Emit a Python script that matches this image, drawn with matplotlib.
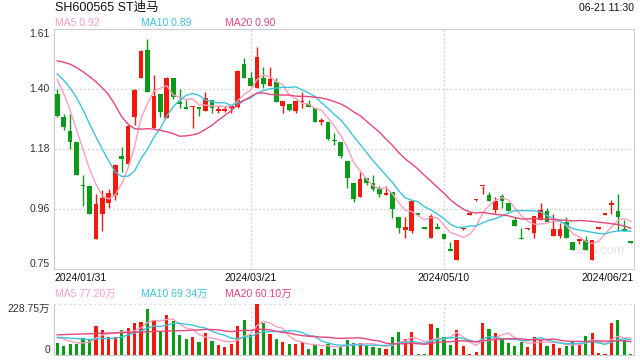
import numpy as np
import matplotlib.pyplot as plt
from matplotlib.patches import Rectangle

plt.rcParams['font.family'] = ['Liberation Sans', 'Noto Sans CJK SC', 'DejaVu Sans']

# 行情数据 (日K, 2024/01/31 - 2024/06/21)
opens = [1.378, 1.296, 1.246, 1.206, 1.050, 1.049, 0.859, 0.948, 0.988, 1.016,
         1.156, 1.127, 1.296, 1.436, 1.536, 1.256, 1.378, 1.292, 1.436, 1.348,
         1.330, 1.330, 1.330, 1.317, 1.357, 1.317, 1.317, 1.328, 1.332, 1.486,
         1.436, 1.400, 1.436, 1.407, 1.421, 1.335, 1.341, 1.317, 1.348, 1.341,
         1.328, 1.278, 1.278, 1.212, 1.206, 1.138, 1.059, 1.009, 1.077, 1.059,
         1.041, 1.018, 1.027, 0.937, 0.891, 0.887, 0.950, 0.900, 0.862, 0.900,
         0.877, 0.821, 0.783, 0.893, 0.946, 0.997, 1.047, 1.016, 0.963, 1.013,
         0.988, 0.927, 0.860, 0.893, 0.880, 0.927, 0.959, 0.869, 0.869, 0.920,
         0.848, 0.853, 0.855, 0.783, 0.896, 0.946, 0.982, 0.959, 0.893, 0.850]
highs = [1.396, 1.307, 1.307, 1.206, 1.088, 1.049, 1.020, 1.034, 1.038, 1.127,
         1.188, 1.267, 1.396, 1.536, 1.575, 1.446, 1.378, 1.439, 1.436, 1.396,
         1.357, 1.335, 1.330, 1.385, 1.357, 1.335, 1.335, 1.337, 1.464, 1.507,
         1.457, 1.547, 1.475, 1.475, 1.436, 1.353, 1.341, 1.353, 1.385, 1.357,
         1.328, 1.292, 1.278, 1.238, 1.206, 1.138, 1.059, 1.099, 1.077, 1.088,
         1.049, 1.049, 1.027, 0.937, 0.937, 0.998, 0.951, 0.901, 0.948, 0.916,
         0.880, 0.848, 0.855, 0.898, 0.951, 1.001, 1.050, 1.027, 1.009, 1.020,
         0.988, 0.937, 0.898, 0.897, 0.941, 0.988, 0.970, 0.948, 0.916, 0.937,
         0.848, 0.857, 0.869, 0.855, 0.900, 0.951, 0.998, 1.020, 0.927, 0.851]
lows = [1.296, 1.249, 1.181, 1.088, 0.977, 0.948, 0.859, 0.887, 0.970, 0.998,
        1.099, 1.127, 1.267, 1.436, 1.385, 1.256, 1.296, 1.292, 1.360, 1.328,
        1.326, 1.256, 1.299, 1.317, 1.310, 1.310, 1.314, 1.310, 1.328, 1.436,
        1.407, 1.400, 1.400, 1.407, 1.350, 1.310, 1.317, 1.310, 1.328, 1.330,
        1.278, 1.267, 1.213, 1.195, 1.149, 1.041, 0.991, 1.009, 1.052, 1.031,
        1.009, 1.018, 0.934, 0.880, 0.862, 0.880, 0.945, 0.895, 0.862, 0.895,
        0.859, 0.817, 0.783, 0.891, 0.945, 0.996, 1.020, 0.995, 0.952, 0.970,
        0.959, 0.905, 0.857, 0.892, 0.862, 0.927, 0.920, 0.869, 0.862, 0.862,
        0.819, 0.841, 0.819, 0.783, 0.895, 0.945, 0.948, 0.887, 0.889, 0.845]
closes = [1.299, 1.260, 1.206, 1.088, 1.047, 0.948, 0.984, 1.006, 1.023, 1.124,
          1.145, 1.264, 1.393, 1.532, 1.385, 1.371, 1.314, 1.436, 1.367, 1.344,
          1.326, 1.333, 1.326, 1.364, 1.328, 1.324, 1.324, 1.335, 1.461, 1.436,
          1.407, 1.511, 1.414, 1.432, 1.350, 1.353, 1.320, 1.353, 1.351, 1.332,
          1.278, 1.285, 1.217, 1.208, 1.156, 1.077, 1.002, 1.074, 1.059, 1.038,
          1.020, 1.022, 0.966, 0.898, 0.902, 0.995, 0.946, 0.896, 0.941, 0.896,
          0.859, 0.817, 0.855, 0.896, 0.950, 1.000, 1.050, 0.995, 0.995, 0.995,
          0.959, 0.905, 0.857, 0.896, 0.941, 0.963, 0.920, 0.895, 0.895, 0.862,
          0.819, 0.857, 0.819, 0.855, 0.900, 0.950, 0.986, 0.937, 0.889, 0.846]
# 成交量 (万)
volumes = [54.9, 41.2, 49.0, 51.7, 76.4, 73.2, 132.7, 114.4, 82.4, 82.4,
           114.4, 123.5, 143.2, 147.8, 205.9, 160.1, 109.8, 178.4, 155.6, 91.5,
           73.2, 82.4, 59.5, 100.7, 65.4, 45.8, 36.6, 50.3, 132.7, 160.1,
           91.5, 228.75, 146.4, 96.1, 73.2, 59.5, 50.3, 50.3, 59.5, 27.5,
           47.1, 27.5, 50.3, 27.5, 36.6, 68.6, 54.9, 54.9, 41.2, 36.6,
           32.0, 27.5, 82.4, 105.2, 73.2, 105.2, 4.6, 4.6, 141.8, 123.5,
           82.4, 45.8, 114.4, 41.2, 4.6, 13.7, 146.4, 119.0, 100.7, 73.2,
           54.9, 41.2, 59.5, 36.6, 83.1, 68.6, 41.2, 50.3, 32.0, 41.2,
           59.5, 50.3, 86.9, 101.5, 9.2, 4.6, 146.4, 160.1, 68.6, 6.3]

# 窗口之前的均线值
ma5_head = [1.43, 1.38, 1.32, 1.25]
ma10_head = [1.450, 1.428, 1.400, 1.365, 1.322, 1.272, 1.225, 1.180, 1.138]
ma20_head = [1.497, 1.492, 1.485, 1.473, 1.458, 1.441, 1.422, 1.400, 1.375, 1.338,
             1.297, 1.270, 1.254, 1.252, 1.254, 1.252, 1.248, 1.243, 1.236]
vma5_head = [78.0, 72.0, 62.0, 55.0]
vma10_head = [80.0, 78.0, 76.0, 74.0, 72.0, 70.0, 72.0, 74.0, 75.0]
vma20_head = [91.0, 92.0, 93.0, 94.0, 95.0, 96.0, 97.0, 98.0, 99.0, 100.0,
              101.0, 102.0, 103.0, 104.0, 105.0, 106.0, 107.0, 108.0, 109.0]

xtick_pos = [0, 30, 60, 89]
xtick_labels = ['2024/01/31', '2024/03/21', '2024/05/10', '2024/06/21']
ytick_vals = [1.61, 1.395, 1.18, 0.965, 0.75]
ytick_labels = ['1.61', '1.40', '1.18', '0.96', '0.75']


def moving_avg(values, n, head):
    v = np.asarray(values, dtype=float)
    tail = np.convolve(v, np.ones(n) / n, mode='valid')
    return np.concatenate([head, tail])


RED = '#f5190d'
GREEN = '#0a9c19'
C_MA5 = '#fb9fbd'
C_MA10 = '#3cc4dd'
C_MA20 = '#e8467a'
GRID = '#d6d6d6'
BORDER = '#cccccc'

n = len(closes)
x = np.arange(n)
ma5 = moving_avg(closes, 5, ma5_head)
ma10 = moving_avg(closes, 10, ma10_head)
ma20 = moving_avg(closes, 20, ma20_head)
vma5 = moving_avg(volumes, 5, vma5_head)
vma10 = moving_avg(volumes, 10, vma10_head)
vma20 = moving_avg(volumes, 20, vma20_head)

fig = plt.figure(figsize=(6.4, 3.6), dpi=100)
W, H = 640.0, 360.0
ax = fig.add_axes([54 / W, 1 - 269.3 / H, 580 / W, 240 / H])
axv = fig.add_axes([54 / W, 1 - 355 / H, 580 / W, 50.7 / H])

# K线
bw = 0.72
for i in range(n):
    o, h, l, c = opens[i], highs[i], lows[i], closes[i]
    col = RED if c >= o else GREEN
    ax.vlines(i, l, h, color=col, lw=1, zorder=3)
    ax.add_patch(Rectangle((i - bw / 2, min(o, c)), bw, max(abs(c - o), 0.004),
                           facecolor=col, edgecolor='none', zorder=4))

ax.plot(x, ma5, color=C_MA5, lw=1, zorder=5)
ax.plot(x, ma10, color=C_MA10, lw=1, zorder=5)
ax.plot(x, ma20, color=C_MA20, lw=1, zorder=5)

ax.set_xlim(-0.5, n - 0.5)
ax.set_ylim(0.75, 1.61)
ax.set_xticks([])
ax.set_yticks([])
for s in ax.spines.values():
    s.set_color(BORDER)
    s.set_linewidth(0.8)
for yv in ytick_vals[1:-1]:
    ax.axhline(yv, color=GRID, lw=1, dashes=(1.5, 1.5), zorder=1)
for xp in xtick_pos[1:-1]:
    ax.axvline(xp, color=GRID, lw=1, dashes=(1.5, 1.5), zorder=1)

ytr = ax.get_yaxis_transform()
for k, (yv, lab) in enumerate(zip(ytick_vals, ytick_labels)):
    va = 'top' if k == 0 else ('bottom' if k == len(ytick_vals) - 1 else 'center')
    ax.text(-0.007, yv, lab, transform=ytr, ha='right', va=va, fontsize=7.5, color='#333333')

xtr = ax.get_xaxis_transform()
for k, (xp, lab) in enumerate(zip(xtick_pos, xtick_labels)):
    ha = 'left' if k == 0 else ('right' if k == len(xtick_pos) - 1 else 'center')
    xx = -0.5 if k == 0 else (n - 0.5 if k == len(xtick_pos) - 1 else xp)
    ax.text(xx, -0.037, lab, transform=xtr, ha=ha, va='center', fontsize=7.5, color='#111111')

ax.text(600 / W, 1 - 251 / H, 'sina.com', transform=fig.transFigure, ha='center', va='center',
        fontsize=9, color='#e2e2e2', zorder=2)

# 成交量
for i in range(n):
    col = RED if closes[i] >= opens[i] else GREEN
    axv.bar(i, volumes[i], width=0.5, color=col, zorder=3)
axv.plot(x, vma5, color=C_MA5, lw=1, zorder=5)
axv.plot(x, vma10, color=C_MA10, lw=1, zorder=5)
axv.plot(x, vma20, color=C_MA20, lw=1, zorder=5)
vmax = max(volumes)
axv.set_xlim(-0.5, n - 0.5)
axv.set_ylim(0, vmax)
axv.set_xticks([])
axv.set_yticks([])
for s in axv.spines.values():
    s.set_color(BORDER)
    s.set_linewidth(0.8)
axv.spines['top'].set_visible(False)
axv.axhline(vmax, color=GRID, lw=1.2, dashes=(1.5, 1.5), zorder=1)
for xp in xtick_pos[1:-1]:
    axv.axvline(xp, color=GRID, lw=1, dashes=(1.5, 1.5), zorder=1)
vtr = axv.get_yaxis_transform()
axv.text(-0.007, vmax, f'{vmax:.2f}万', transform=vtr, ha='right', va='top', fontsize=7.5, color='#333333')
axv.text(-0.007, 0, '0', transform=vtr, ha='right', va='bottom', fontsize=7.5, color='#333333')

# 标题和均线数值
fig.text(55 / W, 1 - 8 / H, 'SH600565 ST迪马', ha='left', va='center', fontsize=9, color='#111111')
fig.text(634 / W, 1 - 8 / H, '06-21 11:30', ha='right', va='center', fontsize=7.5, color='#111111')
fig.text(55 / W, 1 - 22.5 / H, f'MA5 {ma5[-1]:.2f}', fontsize=7.5, color=C_MA5, va='center')
fig.text(141 / W, 1 - 22.5 / H, f'MA10 {ma10[-1]:.2f}', fontsize=7.5, color=C_MA10, va='center')
fig.text(225 / W, 1 - 22.5 / H, f'MA20 {ma20[-1]:.2f}', fontsize=7.5, color=C_MA20, va='center')
fig.text(55 / W, 1 - 294 / H, f'MA5 {vma5[-1]:.2f}万', fontsize=7.5, color=C_MA5, va='center')
fig.text(141 / W, 1 - 294 / H, f'MA10 {vma10[-1]:.2f}万', fontsize=7.5, color=C_MA10, va='center')
fig.text(225 / W, 1 - 294 / H, f'MA20 {vma20[-1]:.2f}万', fontsize=7.5, color=C_MA20, va='center')

fig.savefig('out.png', dpi=100)
